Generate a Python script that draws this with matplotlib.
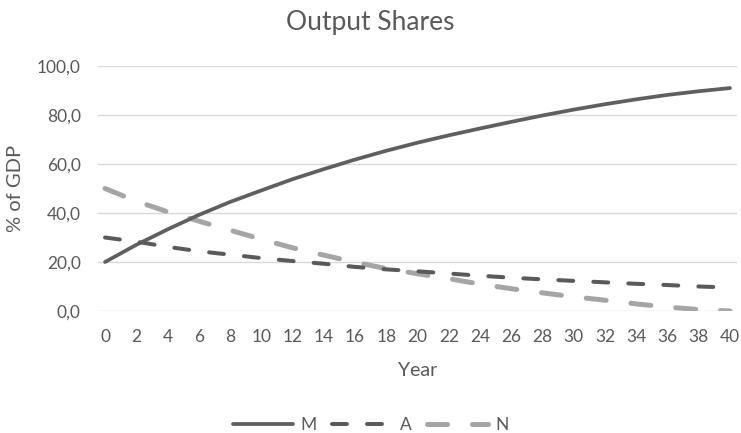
import matplotlib
matplotlib.use("Agg")
import matplotlib.pyplot as plt
from matplotlib.lines import Line2D

# Output shares (% of GDP) by year
years = [0, 2, 4, 6, 8, 10, 12, 14, 16, 18, 20, 22, 24, 26, 28, 30, 32, 34, 36, 38, 40]
share_m = [20.0, 27.0, 33.3, 39.2, 44.5, 49.2, 53.8, 57.9, 61.8, 65.4, 68.7,
           71.7, 74.5, 77.2, 79.8, 82.2, 84.4, 86.4, 88.2, 89.7, 91.0]
share_a = [30.0, 28.3, 26.2, 24.4, 23.0, 21.6, 20.4, 19.3, 18.0, 17.0, 16.2,
           15.3, 14.4, 13.6, 12.9, 12.3, 11.7, 11.1, 10.6, 10.0, 9.6]
share_n = [50.0, 44.8, 40.5, 36.7, 33.0, 29.3, 25.8, 22.8, 19.9, 17.3, 15.2,
           13.2, 11.0, 9.1, 7.4, 5.8, 4.4, 2.9, 1.6, 0.6, 0.0]
y_ticks = [0, 20, 40, 60, 80, 100]
y_tick_labels = ["0,0", "20,0", "40,0", "60,0", "80,0", "100,0"]

TEXT = "#595959"
DARK = "#5f5f5f"
LIGHT = "#a5a5a5"
GRID = "#d9d9d9"

plt.rcParams["font.family"] = ["Lato", "DejaVu Sans"]

fig = plt.figure(figsize=(7.41, 4.33), dpi=100)
ax = fig.add_axes([98 / 741, 1 - 311 / 433, (737 - 98) / 741, (311 - 66) / 433])

ax.plot(years, share_m, color=DARK, lw=2.7, solid_capstyle="round", label="M", zorder=3)
ax.plot(years, share_a, color="#5a5a5a", lw=2.9, dashes=(3.7, 5.0),
        dash_capstyle="round", label="A", zorder=3)
ax.plot(years, share_n, color=LIGHT, lw=3.6, dashes=(4.0, 5.0),
        dash_capstyle="round", label="N", zorder=2)

ax.set_xlim(-0.45, 40.45)
ax.set_ylim(0, 100)
ax.set_xticks(years)
ax.set_xticklabels([str(y) for y in years])
ax.set_yticks(y_ticks)
ax.set_yticklabels(y_tick_labels)

ax.grid(axis="y", color=GRID, lw=1.0)
ax.set_axisbelow(True)
for s in ax.spines.values():
    s.set_visible(False)
ax.tick_params(axis="both", length=0, labelsize=12.5, colors=TEXT)
ax.tick_params(axis="x", pad=13)
ax.tick_params(axis="y", pad=12.5)

ax.set_xlabel("Year", fontsize=14, color=TEXT, labelpad=12)
ax.set_ylabel("% of GDP", fontsize=14.5, color=TEXT, labelpad=9)
fig.suptitle("Output Shares", fontsize=19, color=TEXT, y=0.977)

handles = [
    Line2D([], [], color=DARK, lw=2.7, solid_capstyle="round"),
    Line2D([], [], color="#5a5a5a", lw=2.9, dashes=(3.7, 5.0), dash_capstyle="round"),
    Line2D([], [], color=LIGHT, lw=3.6, dashes=(4.0, 5.0), dash_capstyle="round"),
]
fig.legend(handles, ["M", "A", "N"], loc="center", bbox_to_anchor=(0.5, 1 - 425 / 433),
           ncol=3, frameon=False, fontsize=12.5, handlelength=3.5,
           handletextpad=0.4, columnspacing=0.9, labelcolor=TEXT)

fig.savefig("out.png", dpi=100)
